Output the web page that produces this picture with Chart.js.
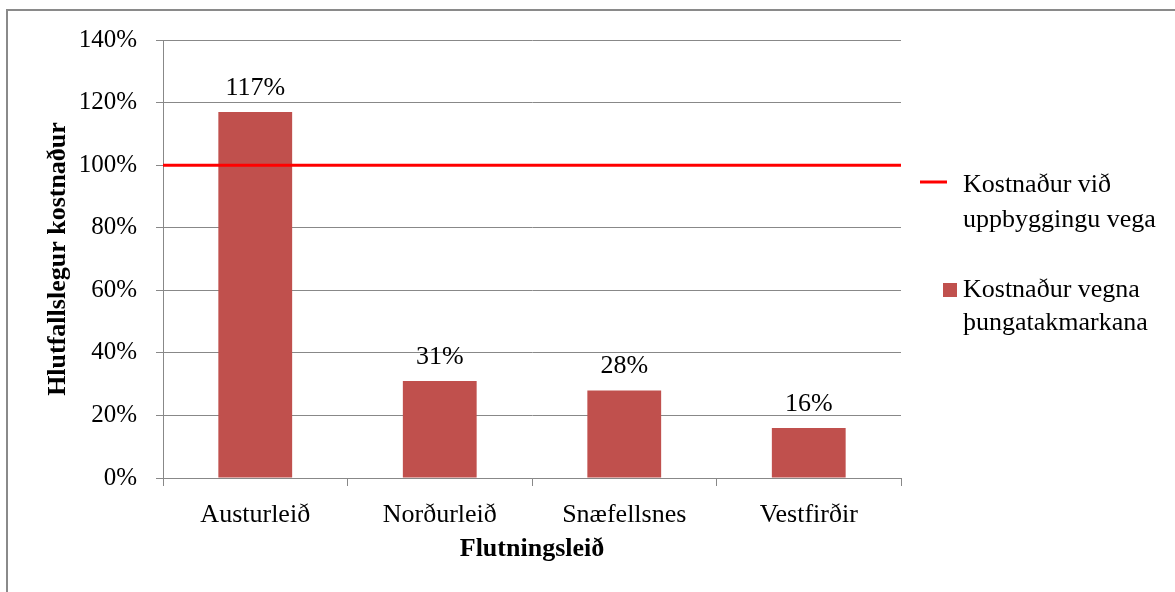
<!DOCTYPE html>
<html>
<head>
<meta charset="utf-8">
<script src="https://cdn.jsdelivr.net/npm/chart.js@4/dist/chart.umd.min.js"></script>
<style>
  html, body { margin: 0; padding: 0; background: #fff; overflow: hidden; }
  #wrap { position: relative; width: 1175px; height: 592px; overflow: hidden; }
  #frame { position: absolute; left: 6px; top: 9px; width: 1200px; height: 620px;
           border: 2px solid #8a8a8a; box-sizing: border-box; }
  canvas { position: absolute; left: 0; top: 0; }
</style>
</head>
<body>
<div id="wrap">
  <div id="frame"></div>
  <canvas id="c" width="1175" height="592"></canvas>
</div>
<script>
// Routes and their relative cost of weight restrictions (% of road upgrade cost)
const routes = ['Austurleið', 'Norðurleið', 'Snæfellsnes', 'Vestfirðir'];
const restrictionCost = [117, 31, 28, 16];
// Upgrade cost is the 100% reference level
const upgradeCostX = [0, 1];
const upgradeCostY = [100, 100];
const yTicks = [0, 20, 40, 60, 80, 100, 120, 140];

const seriesNames = ['Kostnaður við uppbyggingu vega', 'Kostnaður vegna þungatakmarkana'];
const barColor = '#C0504D';
const lineColor = '#FF0000';
const gridColor = '#888888';
const FONT = '"Liberation Serif", "Times New Roman", serif';

const valueLabels = {
  id: 'valueLabels',
  afterDatasetsDraw(chart) {
    const ctx = chart.ctx;
    const meta = chart.getDatasetMeta(1);
    ctx.save();
    ctx.font = '26px ' + FONT;
    ctx.fillStyle = '#000';
    ctx.textAlign = 'center';
    ctx.textBaseline = 'alphabetic';
    meta.data.forEach((el, i) => {
      ctx.fillText(restrictionCost[i] + '%', el.x, el.y - 17);
    });
    ctx.restore();
  }
};

const sideLegend = {
  id: 'sideLegend',
  afterDraw(chart) {
    const ctx = chart.ctx;
    ctx.save();
    ctx.font = '26px ' + FONT;
    ctx.fillStyle = '#000';
    ctx.textAlign = 'left';
    ctx.textBaseline = 'middle';
    // line entry
    ctx.strokeStyle = lineColor;
    ctx.lineWidth = 3;
    ctx.beginPath();
    ctx.moveTo(920, 182);
    ctx.lineTo(947, 182);
    ctx.stroke();
    ctx.fillText('Kostnaður við', 963, 185);
    ctx.fillText('uppbyggingu vega', 963, 220);
    // bar entry
    ctx.fillStyle = barColor;
    ctx.fillRect(943, 283, 14, 14);
    ctx.fillStyle = '#000';
    ctx.fillText('Kostnaður vegna', 963, 290);
    ctx.fillText('þungatakmarkana', 963, 323);
    ctx.restore();
  }
};

new Chart(document.getElementById('c'), {
  data: {
    labels: routes,
    datasets: [
      {
        type: 'line',
        label: seriesNames[0],
        data: upgradeCostX.map((x, i) => ({ x: x, y: upgradeCostY[i] })),
        xAxisID: 'x2',
        borderColor: lineColor,
        borderWidth: 3,
        pointRadius: 0,
        order: 0
      },
      {
        type: 'bar',
        label: seriesNames[1],
        data: restrictionCost,
        backgroundColor: barColor,
        grouped: false,
        barPercentage: 0.8,
        categoryPercentage: 0.5,
        order: 1
      }
    ]
  },
  options: {
    responsive: false,
    animation: false,
    layout: { padding: { left: 0, top: 40, right: 274, bottom: 0 } },
    plugins: {
      legend: { display: false },
      tooltip: { enabled: false }
    },
    scales: {
      x: {
        type: 'category',
        offset: true,
        grid: {
          offset: true,
          drawOnChartArea: false,
          color: gridColor,
          tickLength: 8,
          tickColor: gridColor
        },
        border: { color: gridColor, width: 1 },
        ticks: { color: '#000', font: { family: FONT, size: 26 }, padding: 14, maxRotation: 0 },
        title: {
          display: true,
          text: 'Flutningsleið',
          color: '#000',
          font: { family: FONT, size: 26, weight: 'bold' },
          padding: { top: 0, bottom: 27 }
        },
        afterFit(s) { s.height = 114; }
      },
      x2: {
        type: 'linear',
        display: false,
        min: 0,
        max: 1
      },
      y: {
        min: 0,
        max: 140,
        afterBuildTicks(s) { s.ticks = yTicks.map(v => ({ value: v })); },
        grid: { color: gridColor, tickLength: 7, tickColor: gridColor },
        border: { color: gridColor, width: 1 },
        ticks: {
          color: '#000',
          font: { family: FONT, size: 25 },
          padding: 19,
          callback: v => v + '%'
        },
        title: {
          display: true,
          text: 'Hlutfallslegur kostnaður',
          color: '#000',
          font: { family: FONT, size: 26, weight: 'bold' },
          padding: { top: 43, bottom: 0 }
        },
        afterFit(s) { s.width = 163; }
      }
    }
  },
  plugins: [valueLabels, sideLegend]
});
</script>
</body>
</html>
